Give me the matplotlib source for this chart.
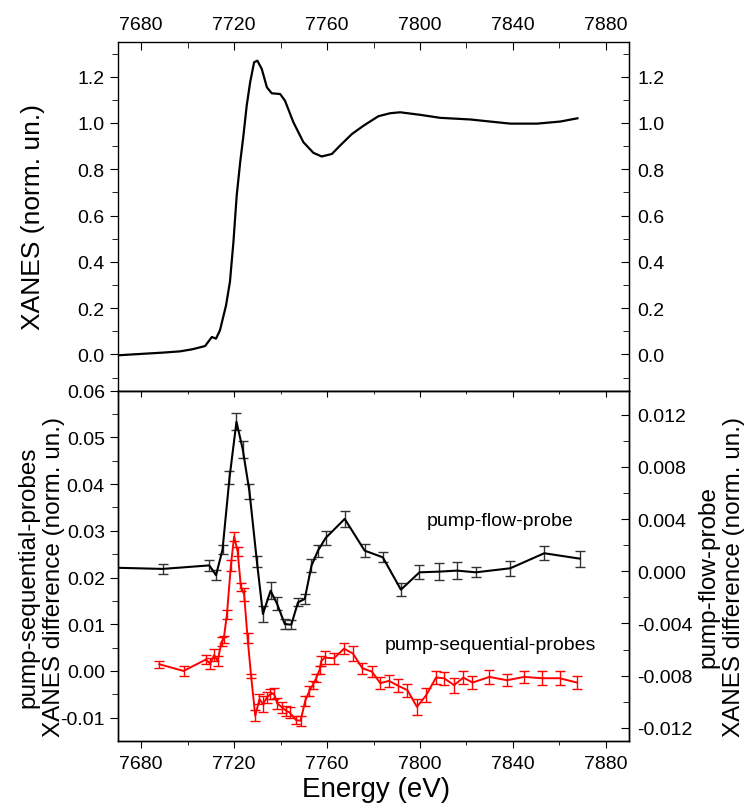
import matplotlib
matplotlib.use("Agg")
import matplotlib.pyplot as plt
from matplotlib.ticker import MultipleLocator, FixedLocator, FormatStrFormatter

plt.rcParams['font.family'] = ['Liberation Sans', 'DejaVu Sans']

# ---------------- data ----------------
# XANES (top panel)
xanes_E = [7670, 7680, 7690, 7696.7, 7702, 7707.5, 7710.4, 7712.2, 7713.9, 7716.5,
           7718.2, 7719.7, 7721.1, 7722.6, 7724.0, 7725.4, 7726.9, 7728.6, 7730.0,
           7731.9, 7734.1, 7736.2, 7739.8, 7741.9, 7745.5, 7749.8, 7754.1, 7757.7,
           7762.1, 7765.6, 7770.7, 7775.7, 7782.1, 7787.2, 7791.5, 7800.1, 7808.7,
           7821.6, 7830.2, 7838.9, 7850.4, 7860.4, 7867.8]
xanes_val = [-0.004, 0.002, 0.008, 0.013, 0.022, 0.036, 0.075, 0.068, 0.104, 0.211,
             0.314, 0.486, 0.686, 0.830, 0.945, 1.074, 1.176, 1.262, 1.269,
             1.233, 1.154, 1.128, 1.125, 1.096, 1.003, 0.917, 0.871, 0.855,
             0.866, 0.902, 0.952, 0.988, 1.029, 1.042, 1.046, 1.035, 1.022,
             1.015, 1.006, 0.997, 0.997, 1.006, 1.020]

# pump-flow-probe (black, right axis)
pfp_E = [7660, 7689.2, 7709.3, 7712.2, 7715.0, 7718.0, 7721.0, 7723.7, 7726.6,
         7729.8, 7732.4, 7735.7, 7738.5, 7741.8, 7744.6, 7747.5, 7750.4, 7753.3,
         7756.1, 7759.4, 7767.6, 7776.2, 7784.0, 7791.8, 7799.8, 7808.0, 7815.9,
         7824.1, 7838.9, 7853.5, 7868.7]
pfp_val = [0.00031, 0.00018, 0.00045, -0.00030, 0.00165, 0.00715, 0.01145, 0.00935,
           0.00610, 0.00074, -0.00327, -0.00149, -0.00250, -0.00404, -0.00409,
           -0.00238, -0.00212, 0.00043, 0.00158, 0.00255, 0.00401, 0.00158, 0.00107,
           -0.00141, -0.00008, -0.00003, 0.00005, -0.00008, 0.00023, 0.00138, 0.00097]
pfp_err = [0.0004, 0.0004, 0.0004, 0.00036, 0.00036, 0.0005, 0.00064, 0.00064, 0.00057,
           0.00042, 0.00064, 0.00066, 0.0005, 0.00038, 0.00036, 0.0003, 0.0004, 0.0005,
           0.00045, 0.0005, 0.00064, 0.0005, 0.00038, 0.0005, 0.00054, 0.00065, 0.00064,
           0.00038, 0.00056, 0.00055, 0.00061]

# pump-sequential-probes (red, left axis)
psp_E = [7687.8, 7698.2, 7707.8, 7709.7, 7711.4, 7712.9, 7714.6, 7715.5, 7716.9,
         7718.6, 7720.0, 7721.5, 7722.9, 7724.3, 7725.8, 7727.3, 7729.1, 7730.9,
         7732.4, 7734.1, 7735.6, 7737.1, 7738.6, 7740.7, 7742.5, 7743.9, 7746.7,
         7748.6, 7750.6, 7752.4, 7753.9, 7755.3, 7756.8, 7757.5, 7759.0, 7763.0,
         7767.3, 7771.2, 7775.2, 7779.3, 7782.9, 7786.7, 7790.7, 7794.6, 7798.7,
         7802.7, 7806.9, 7810.4, 7814.7, 7818.7, 7822.6, 7829.9, 7837.4, 7844.9,
         7852.5, 7860.1, 7867.6]
psp_val = [0.00143, 0.00000, 0.00243, 0.00157, 0.00342, 0.00214, 0.00627, 0.00677,
           0.01211, 0.02264, 0.02876, 0.02562, 0.01802, 0.01638, 0.00698, -0.00107,
           -0.00961, -0.00604, -0.00711, -0.00569, -0.00498, -0.00484, -0.00697,
           -0.00783, -0.00854, -0.00890, -0.01053, -0.01067, -0.00641, -0.00427,
           -0.00299, -0.00156, 0.00021, 0.00214, 0.00285, 0.00271, 0.00477, 0.00370,
           0.00058, -0.00014, -0.00260, -0.00213, -0.00320, -0.00412, -0.00769,
           -0.00519, -0.00142, -0.00156, -0.00305, -0.00142, -0.00249, -0.00128,
           -0.00199, -0.00128, -0.00156, -0.00156, -0.00249]
psp_err = [0.0008, 0.00107, 0.001, 0.0011, 0.0012, 0.0011, 0.0009, 0.0008, 0.001,
           0.0012, 0.001, 0.001, 0.0009, 0.0014, 0.0011, 0.0004, 0.0012, 0.0011,
           0.0017, 0.0011, 0.0011, 0.0011, 0.0011, 0.0011, 0.0011, 0.0011, 0.0009,
           0.0011, 0.0011, 0.0011, 0.0009, 0.0009, 0.0009, 0.0011, 0.0014, 0.0012,
           0.0012, 0.0016, 0.0012, 0.0011, 0.0013, 0.0013, 0.0014, 0.0014, 0.0017,
           0.0015, 0.0014, 0.0014, 0.0016, 0.0014, 0.0014, 0.0015, 0.0013, 0.0012,
           0.0015, 0.0015, 0.0014]

# tick values
x_major = [7680, 7720, 7760, 7800, 7840, 7880]
x_minor = [7700, 7740, 7780, 7820, 7860]
top_major = [0.0, 0.2, 0.4, 0.6, 0.8, 1.0, 1.2]
top_minor = [-0.1, 0.1, 0.3, 0.5, 0.7, 0.9, 1.1, 1.3]
left_major = [-0.01, 0.0, 0.01, 0.02, 0.03, 0.04, 0.05, 0.06]
left_minor = [-0.005, 0.005, 0.015, 0.025, 0.035, 0.045, 0.055]
right_major = [-0.012, -0.008, -0.004, 0.0, 0.004, 0.008, 0.012]
right_minor = [-0.010, -0.006, -0.002, 0.002, 0.006, 0.010]

# ---------------- figure ----------------
W, H = 747, 804
fig = plt.figure(figsize=(W / 100, H / 100), dpi=100)

L, R = 118 / W, 629 / W
top_t, mid, bot_b = 1 - 42.7 / H, 1 - 391.7 / H, 1 - 742 / H

ax1 = fig.add_axes([L, mid, R - L, top_t - mid])
ax2 = fig.add_axes([L, bot_b, R - L, mid - bot_b], sharex=ax1)

XLIM = (7670, 7890)
TICK_FS = 14

# ---- top panel ----
ax1.plot(xanes_E, xanes_val, color='black', lw=1.6)
ax1.set_xlim(*XLIM)
ax1.set_ylim(-0.157, 1.351)
ax1.xaxis.set_major_locator(FixedLocator(x_major))
ax1.xaxis.set_minor_locator(FixedLocator(x_minor))
ax1.yaxis.set_major_locator(FixedLocator(top_major))
ax1.yaxis.set_minor_locator(FixedLocator(top_minor))
ax1.yaxis.set_major_formatter(FormatStrFormatter('%.1f'))
ax1.tick_params(axis='x', which='both', top=True, bottom=False, labeltop=True,
                labelbottom=False, direction='in', labelsize=TICK_FS, pad=6)
ax1.tick_params(axis='x', which='major', length=6)
ax1.tick_params(axis='x', which='minor', length=4)
ax1.tick_params(axis='y', which='both', left=True, right=False, direction='out',
                labelsize=TICK_FS)
ax1.tick_params(axis='y', which='major', length=6)
ax1.tick_params(axis='y', which='minor', length=4)
sec1 = ax1.secondary_yaxis('right')
sec1.yaxis.set_major_locator(FixedLocator(top_major))
sec1.yaxis.set_minor_locator(FixedLocator(top_minor))
sec1.yaxis.set_major_formatter(FormatStrFormatter('%.1f'))
sec1.tick_params(axis='y', which='both', direction='in', labelsize=TICK_FS, pad=6)
sec1.tick_params(axis='y', which='major', length=6)
sec1.tick_params(axis='y', which='minor', length=4)

# ---- bottom panel ----
ax2r = ax2.twinx()
ax2.errorbar(psp_E, psp_val, yerr=psp_err, color='red', ecolor='red', lw=1.4,
             elinewidth=1.0, capsize=3.5, capthick=1.0, zorder=3)
ax2r.errorbar(pfp_E, pfp_val, yerr=pfp_err, color='black', ecolor='#333333', lw=1.5,
              elinewidth=1.0, capsize=3.5, capthick=1.0, zorder=3)
ax2.set_xlim(*XLIM)
ax2.set_ylim(-0.015, 0.06)
ax2r.set_ylim(-0.0130, 0.01383)

ax2.yaxis.set_major_locator(FixedLocator(left_major))
ax2.yaxis.set_minor_locator(FixedLocator(left_minor))
ax2.yaxis.set_major_formatter(FormatStrFormatter('%.2f'))
ax2r.yaxis.set_major_locator(FixedLocator(right_major))
ax2r.yaxis.set_minor_locator(FixedLocator(right_minor))
ax2r.yaxis.set_major_formatter(FormatStrFormatter('%.3f'))

ax2.tick_params(axis='x', which='both', bottom=True, top=False, labelbottom=True,
                labeltop=False, direction='out', labelsize=TICK_FS, pad=5)
ax2.tick_params(axis='x', which='major', length=5)
ax2.tick_params(axis='x', which='minor', length=3)
ax2.tick_params(axis='y', which='both', direction='out', labelsize=TICK_FS)
ax2.tick_params(axis='y', which='major', length=6)
ax2.tick_params(axis='y', which='minor', length=4)
ax2r.tick_params(axis='y', which='both', direction='in', labelsize=TICK_FS, pad=6)
ax2r.tick_params(axis='y', which='major', length=6)
ax2r.tick_params(axis='y', which='minor', length=4)

secx = ax2.secondary_xaxis('top')
secx.xaxis.set_major_locator(FixedLocator(x_major))
secx.xaxis.set_minor_locator(FixedLocator(x_minor))
secx.tick_params(axis='x', which='both', direction='in', labeltop=False)
secx.tick_params(axis='x', which='major', length=4)
secx.tick_params(axis='x', which='minor', length=2.5)

for a in (ax1, ax2, ax2r):
    for s in a.spines.values():
        s.set_linewidth(1.0)

# ---- labels ----
fig.text(33 / W, 1 - 217 / H, 'XANES (norm. un.)', rotation=90, ha='center',
         va='center', fontsize=19)
fig.text(41 / W, 1 - 577 / H, 'pump-sequential-probes\nXANES difference (norm. un.)',
         rotation=90, ha='center', va='center', fontsize=17.5, multialignment='center',
         linespacing=1.2)
fig.text(721 / W, 1 - 577 / H, 'pump-flow-probe\nXANES difference (norm. un.)',
         rotation=90, ha='center', va='center', fontsize=17.5, multialignment='center',
         linespacing=1.2)
fig.text(376 / W, 1 - 790 / H, 'Energy (eV)', ha='center', va='center', fontsize=20)

fig.text(500 / W, 1 - 522 / H, 'pump-flow-probe', ha='center', va='center', fontsize=14)
fig.text(490 / W, 1 - 645 / H, 'pump-sequential-probes', ha='center', va='center',
         fontsize=14)

fig.savefig('out.png', dpi=100)
